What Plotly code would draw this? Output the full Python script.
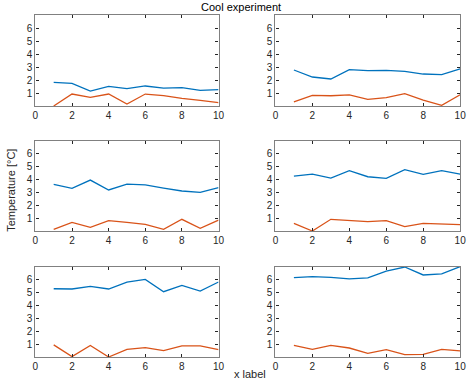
import plotly.graph_objects as go

x = [1, 2, 3, 4, 5, 6, 7, 8, 9, 10]

blue_1 = [1.82, 1.74, 1.15, 1.51, 1.33, 1.54, 1.38, 1.41, 1.20, 1.26]
orange_1 = [0.00, 0.92, 0.67, 0.92, 0.15, 0.92, 0.80, 0.59, 0.44, 0.26]
blue_2 = [2.77, 2.23, 2.08, 2.80, 2.72, 2.74, 2.67, 2.46, 2.41, 2.85]
orange_2 = [0.31, 0.82, 0.79, 0.85, 0.51, 0.64, 0.95, 0.46, 0.05, 0.87]
blue_3 = [3.63, 3.32, 3.96, 3.19, 3.65, 3.58, 3.34, 3.11, 3.00, 3.37]
orange_3 = [0.13, 0.67, 0.28, 0.80, 0.67, 0.52, 0.13, 0.91, 0.21, 0.85]
blue_4 = [4.27, 4.43, 4.11, 4.69, 4.22, 4.09, 4.77, 4.40, 4.69, 4.43]
orange_4 = [0.60, 0.00, 0.91, 0.81, 0.73, 0.81, 0.34, 0.60, 0.55, 0.49]
blue_5 = [5.31, 5.29, 5.49, 5.29, 5.83, 6.04, 5.08, 5.57, 5.13, 5.83]
orange_5 = [0.94, 0.03, 0.89, 0.00, 0.60, 0.73, 0.49, 0.86, 0.86, 0.57]
blue_6 = [6.17, 6.25, 6.20, 6.07, 6.15, 6.67, 7.00, 6.38, 6.46, 7.03]
orange_6 = [0.91, 0.60, 0.91, 0.70, 0.29, 0.57, 0.18, 0.21, 0.60, 0.47]

blues = [blue_1, blue_2, blue_3, blue_4, blue_5, blue_6]
oranges = [orange_1, orange_2, orange_3, orange_4, orange_5, orange_6]

x_ticks = [0, 2, 4, 6, 8, 10]
y_ticks = [1, 2, 3, 4, 5, 6]

title_text = "Cool experiment"
x_label = "x label"
y_label = "Temperature [°C]"

W, H = 474, 381
col_px = [(33, 219.7), (277.7, 466)]
row_px = [(15, 106), (141, 231), (267, 357)]

BLUE = "#0072BD"
ORANGE = "#D95319"
AXC = "#808080"
FONT = "Liberation Sans, Arial, sans-serif"

fig = go.Figure()
layout = dict(
    width=W, height=H,
    margin=dict(l=0, r=0, t=0, b=0),
    paper_bgcolor="white", plot_bgcolor="white",
    showlegend=False,
    font=dict(family=FONT, size=10, color="#262626"),
)

for i in range(6):
    r, c = divmod(i, 2)
    n = "" if i == 0 else str(i + 1)
    xa, ya = "x" + n, "y" + n
    fig.add_trace(go.Scatter(x=x, y=blues[i], mode="lines", line=dict(color=BLUE, width=1.3),
                             xaxis=xa, yaxis=ya, cliponaxis=True))
    fig.add_trace(go.Scatter(x=x, y=oranges[i], mode="lines", line=dict(color=ORANGE, width=1.3),
                             xaxis=xa, yaxis=ya, cliponaxis=True))
    x0, x1 = col_px[c]
    y0, y1 = row_px[r]
    layout["xaxis" + n] = dict(
        domain=[x0 / W, x1 / W], anchor=ya, range=[0, 10],
        tickvals=x_ticks, ticks="inside", ticklen=3, tickcolor="#262626",
        showline=True, linecolor=AXC, linewidth=1.3, mirror="allticks",
        showgrid=False, zeroline=False, tickfont=dict(size=10, color="#262626"),
        fixedrange=True,
    )
    layout["yaxis" + n] = dict(
        domain=[1 - y1 / H, 1 - y0 / H], anchor=xa, range=[0, 7],
        tickvals=y_ticks, ticks="inside", ticklen=3, tickcolor="#262626",
        showline=True, linecolor=AXC, linewidth=1.3, mirror="allticks",
        showgrid=False, zeroline=False, tickfont=dict(size=10, color="#262626"),
        fixedrange=True,
    )

layout["annotations"] = [
    dict(text=title_text, x=243 / W, y=1 - 7 / H, xref="paper", yref="paper",
         showarrow=False, xanchor="center", yanchor="middle", font=dict(size=11, color="black")),
    dict(text=x_label, x=252 / W, y=1 - 374 / H, xref="paper", yref="paper",
         showarrow=False, xanchor="center", yanchor="middle", font=dict(size=11, color="#262626")),
    dict(text=y_label, x=8 / W, y=1 - 190 / H, xref="paper", yref="paper", textangle=-90,
         showarrow=False, xanchor="center", yanchor="middle", font=dict(size=11, color="#262626")),
]

fig.update_layout(**layout)
fig.write_html("out.html", config={"displayModeBar": False},
               post_script="document.body.style.margin='0';document.body.style.overflow='hidden';")
